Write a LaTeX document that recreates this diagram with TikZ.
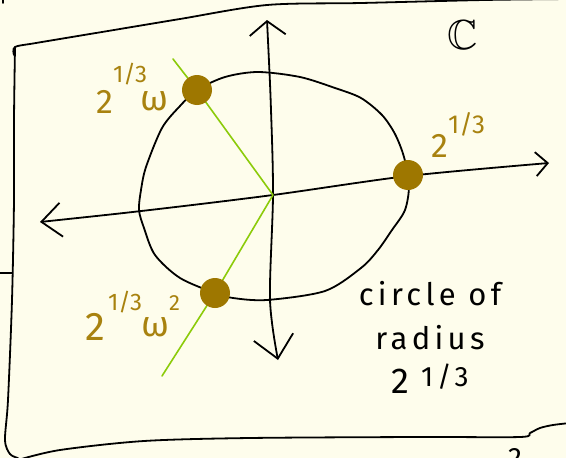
\documentclass[tikz,border=0pt]{standalone}
\usepackage{amssymb}
\usepackage{fontspec}
\setmainfont{Fira Sans}
\usetikzlibrary{arrows.meta}
\definecolor{paper}{HTML}{FEFDEC}
\definecolor{dotc}{HTML}{9E7700}
\definecolor{goldtxt}{HTML}{A8820F}
\definecolor{limeg}{HTML}{8CCB0A}
\newcommand{\myexp}[2]{\raisebox{#1}{\fontsize{#2}{#2}\selectfont 1/3}}
\begin{document}
\begin{tikzpicture}[x=1pt,y=-1pt,
  ink/.style={line width=1.8pt, line cap=round, line join=round, draw=black},
  rootdot/.style={circle, fill=dotc, minimum size=30pt, inner sep=0pt},
  goldlbl/.style={text=goldtxt, inner sep=0pt, font=\fontsize{34}{34}\selectfont},
  note/.style={inner sep=0pt, align=center, font=\fontsize{31}{44}\selectfont\addfontfeatures{LetterSpace=14}},
  greenl/.style={line width=1.6pt, line cap=round, line join=round, draw=limeg}]
\fill[paper] (0,0) rectangle (566,458);
\useasboundingbox (0,0) rectangle (566,458);
\clip (0,0) rectangle (566,458);
% frame
\draw[ink] plot[smooth] coordinates {(14,55) (15,47) (36,43) (108,31) (180,19) (267,5) (361,3) (484,0) (570,-1)};
\draw[ink] plot[smooth] coordinates {(15,47) (14,120) (14,200) (12,300) (8,400) (5,440) (10,454) (18,458)};
\draw[ink] plot[smooth] coordinates {(18,460) (60,450) (144,441) (250,438) (420,437) (520,437) (530,433) (540,428) (553,425) (570,423)};
\draw[ink] (0,273) -- (12,273);
\draw[ink] (3,0) -- (3,3);
\node[inner sep=0pt, anchor=north, font=\fontsize{28}{28}\selectfont] (cut) at (515,448) {2};
% C
\node[inner sep=0pt, font=\fontsize{42}{42}\selectfont] (cc) at (463,35) {$\mathbb{C}$};
% points
\coordinate (o) at (273,195);
\coordinate (p1) at (197,90);
\coordinate (p2) at (408,175);
\coordinate (p3) at (215,293);
\coordinate (gtop) at (173,59);
\coordinate (gbot) at (162,376);
% circle
\draw[ink] plot[smooth cycle] coordinates {(258,72) (300,77) (335,88) (361,98) (382,115) (395,134) (404,157) (409,185) (405,210) (392,230) (378,250) (361,268) (325,291) (267,300) (233,298) (215,293) (180,278) (155,255) (144,228) (139,210) (141,190) (146,167) (162,128) (180,106) (197,90) (225,77)};
% axes
\draw[ink, arrows={Straight Barb[length=20pt,width=34pt]-Straight Barb[length=12pt,width=24pt]}] plot[smooth] coordinates {(40,222) (150,210) (273,195) (408,176) (549,163)};
\draw[ink, arrows={Straight Barb[length=14pt,width=36pt]-Straight Barb[length=22pt,width=40pt]}] plot[smooth] coordinates {(267,20) (271,110) (273,195) (270,300) (278,360)};
% green lines
\draw[greenl] (gtop) -- (p1) -- (o) -- (p3) -- (gbot);
% roots
\node[rootdot] (d1) at (p1) {};
\node[rootdot] (d2) at (p2) {};
\node[rootdot] (d3) at (p3) {};
% labels
\node[goldlbl, anchor=base west] (l1) at (96,113) {2\myexp{31pt}{24}\kern-7pt\raisebox{3pt}{\fontsize{36}{36}\selectfont ω}};
\node[goldlbl, anchor=base west] (l2) at (431,157) {2\myexp{24pt}{26}};
\node[goldlbl, anchor=base west, font=\fontsize{40}{40}\selectfont] (l3) at (85,340) {2\kern3pt\myexp{30pt}{24}\kern-1pt\raisebox{4pt}{\fontsize{36}{36}\selectfont ω}\raisebox{30pt}{\fontsize{22}{22}\selectfont 2}};
\node[note, anchor=north] (cap) at (430,281) {circle of\\radius\\{\fontsize{36}{36}\selectfont 2}\hspace{12pt}\raisebox{7pt}{\fontsize{28}{28}\selectfont 1/3}};
\end{tikzpicture}
\end{document}
